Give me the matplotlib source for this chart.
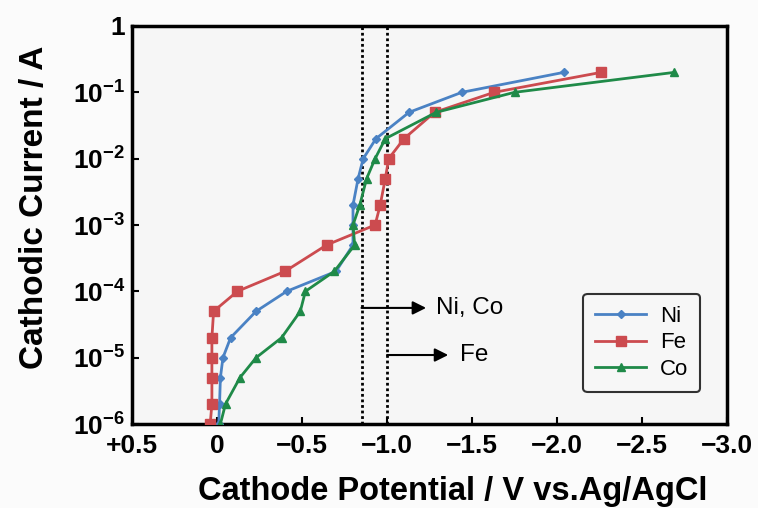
import matplotlib
matplotlib.use("Agg")
import matplotlib.pyplot as plt
from matplotlib import font_manager as fm

# ---- data ----
current = [1e-6, 2e-6, 5e-6, 1e-5, 2e-5, 5e-5, 1e-4, 2e-4, 5e-4,
           1e-3, 2e-3, 5e-3, 1e-2, 2e-2, 5e-2, 1e-1, 2e-1]
ni_potential = [-0.01, -0.015, -0.02, -0.035, -0.08, -0.23, -0.41, -0.70, -0.80,
                -0.80, -0.80, -0.83, -0.86, -0.935, -1.13, -1.44, -2.04]
fe_potential = [0.04, 0.03, 0.03, 0.03, 0.03, 0.02, -0.12, -0.40, -0.645,
                -0.93, -0.96, -0.99, -1.01, -1.10, -1.28, -1.63, -2.26]
co_potential = [-0.02, -0.05, -0.135, -0.23, -0.38, -0.49, -0.52, -0.69, -0.81,
                -0.80, -0.84, -0.88, -0.93, -0.99, -1.29, -1.75, -2.69]
series_names = ["Ni", "Fe", "Co"]
x_ticks = [0.5, 0.0, -0.5, -1.0, -1.5, -2.0, -2.5, -3.0]
x_tick_labels = ["+0.5", "0", "\u22120.5", "\u22121.0", "\u22121.5", "\u22122.0", "\u22122.5", "\u22123.0"]
y_ticks = [1e-6, 1e-5, 1e-4, 1e-3, 1e-2, 1e-1, 1]
y_tick_labels = ["10$^{-6}$", "10$^{-5}$", "10$^{-4}$", "10$^{-3}$", "10$^{-2}$", "10$^{-1}$", "1"]
deposition_lines = [-0.85, -1.0]
annot_labels = ["Ni, Co", "Fe"]
annot_y = [10**-4.25, 10**-4.96]
annot_tip = [-1.23, -1.36]
annot_text_x = [-1.29, -1.43]

installed = {f.name for f in fm.fontManager.ttflist}
fam = [f for f in ["Liberation Sans Narrow", "Liberation Sans", "DejaVu Sans"] if f in installed]
plt.rcParams['font.family'] = fam
plt.rcParams['mathtext.default'] = 'regular'

fig = plt.figure(figsize=(7.58, 5.08), dpi=100, facecolor="#fbfbfb")
ax = fig.add_axes([132/758, 1-424/508, (727-132)/758, (424-26)/508])
ax.set_facecolor("#f6f6f6")

colors = {"Ni": "#4a82c4", "Fe": "#cc4b4f", "Co": "#1f8a48"}
markers = {"Ni": "D", "Fe": "s", "Co": "^"}
msizes = {"Ni": 4.5, "Fe": 7, "Co": 5.5}
data = {"Ni": ni_potential, "Fe": fe_potential, "Co": co_potential}
for name in series_names:
    ax.plot(data[name], current, color=colors[name], marker=markers[name],
            ms=msizes[name], lw=2, label=name, clip_on=True, zorder=3)

for xv in deposition_lines:
    ax.axvline(xv, color="black", ls=(0, (1, 1)), lw=2, zorder=2)

for lab, yv, tip, tx, x0 in zip(annot_labels, annot_y, annot_tip, annot_text_x, deposition_lines):
    ax.annotate("", xy=(tip, yv), xytext=(x0, yv),
                arrowprops=dict(arrowstyle="-|>", lw=1.5, color="black", mutation_scale=20,
                                shrinkA=0, shrinkB=0), zorder=4)
    ax.text(tx, yv, lab, fontsize=17.5, va="center", ha="left")

ax.set_yscale("log")
ax.set_xlim(0.5, -3.0)
ax.set_ylim(1e-6, 1)
ax.set_xticks(x_ticks)
ax.set_xticklabels(x_tick_labels)
ax.set_yticks(y_ticks)
ax.set_yticklabels(y_tick_labels)
ax.minorticks_off()
ax.tick_params(axis="both", direction="in", length=5, width=1.5, labelsize=19)
ax.tick_params(axis="x", pad=7)
ax.tick_params(axis="y", pad=5)
for lbl in ax.get_xticklabels() + ax.get_yticklabels():
    lbl.set_fontweight("bold")
for sp in ax.spines.values():
    sp.set_linewidth(2.5)

ax.set_xlabel("Cathode Potential / V vs.Ag/AgCl", fontsize=23.5, fontweight="bold")
ax.set_ylabel("Cathodic Current / A", fontsize=24, fontweight="bold")
ax.xaxis.set_label_coords((453 - 132) / 595, (424 - 476) / 398)
ax.yaxis.set_label_coords((50 - 132) / 595, (424 - 207) / 398)

leg = ax.legend(loc="lower right", bbox_to_anchor=(0.955, 0.08), borderaxespad=0, fontsize=16,
                frameon=True, fancybox=True, edgecolor="black", facecolor="#f8f8f8",
                handlelength=2.3, borderpad=0.55, labelspacing=0.25, handletextpad=0.6)
leg.get_frame().set_linewidth(1.5)

fig.savefig("out.png", dpi=100, facecolor=fig.get_facecolor())
